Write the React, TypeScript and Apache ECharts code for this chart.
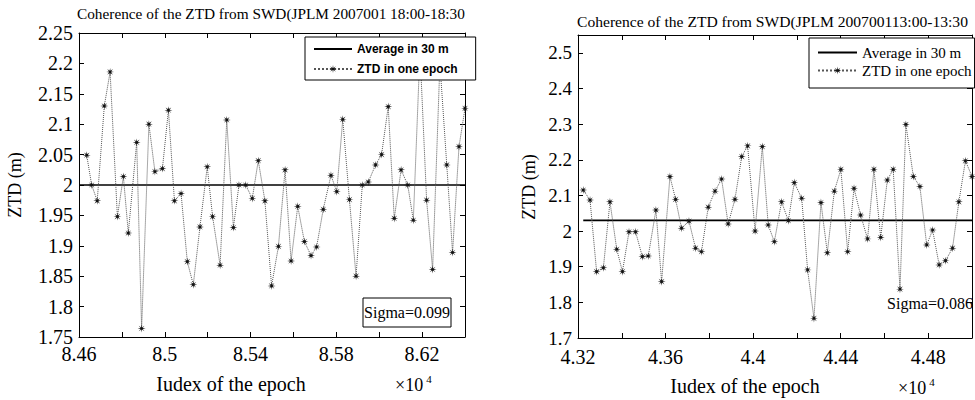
import React, { useEffect, useRef } from "react";
import * as echarts from "echarts";

// ---- Data (x in units of 10^4 epochs, ZTD in m) ----
const LEFT_X = [
  8.4636, 8.4659, 8.4685, 8.4718, 8.4745, 8.4779, 8.4807, 8.483, 8.4869, 8.4892,
  8.4926, 8.4954, 8.4989, 8.5017, 8.5045, 8.5076, 8.5105, 8.5133, 8.5164, 8.5198,
  8.5223, 8.5258, 8.5289, 8.532, 8.5346, 8.5377, 8.5408, 8.5436, 8.5467, 8.5498,
  8.553, 8.5561, 8.5589, 8.562, 8.5651, 8.5682, 8.5708, 8.5739, 8.5775, 8.5802,
  8.583, 8.5861, 8.5892, 8.5921, 8.5949, 8.5983, 8.6011, 8.6042, 8.607, 8.6102,
  8.6133, 8.6159, 8.619, 8.6221, 8.6249, 8.6283, 8.6315, 8.6342, 8.6372, 8.64,
];
const LEFT_Y = [
  2.049, 2.0, 1.974, 2.13, 2.186, 1.948, 2.014, 1.921, 2.07, 1.764,
  2.1, 2.022, 2.027, 2.123, 1.974, 1.986, 1.874, 1.836, 1.931, 2.03,
  1.948, 1.868, 2.107, 1.93, 2.0, 2.0, 1.978, 2.04, 1.974, 1.834,
  1.899, 2.025, 1.875, 1.965, 1.907, 1.884, 1.898, 1.96, 2.016, 1.989,
  2.108, 1.976, 1.85, 2.0, 2.005, 2.033, 2.05, 2.129, 1.945, 2.025,
  2.0, 1.942, 2.22, 1.975, 1.861, 2.2, 2.033, 1.889, 2.063, 2.126,
];
const LEFT_MEAN = 2.0;
const LEFT_MEAN_X = [8.46, 8.64];

const RIGHT_X = [
  4.3224, 4.3255, 4.3285, 4.3316, 4.3346, 4.3377, 4.3403, 4.3433, 4.3463, 4.3494,
  4.3521, 4.3556, 4.3582, 4.362, 4.3646, 4.3673, 4.3707, 4.3737, 4.3764, 4.3795,
  4.3826, 4.3856, 4.3886, 4.3917, 4.3948, 4.3975, 4.4009, 4.4042, 4.4069, 4.4097,
  4.413, 4.4161, 4.4188, 4.4222, 4.4249, 4.4278, 4.431, 4.4339, 4.4371, 4.4401,
  4.4432, 4.4461, 4.4491, 4.4523, 4.4552, 4.4583, 4.4613, 4.464, 4.4671, 4.4698,
  4.4732, 4.4762, 4.4793, 4.482, 4.485, 4.4879, 4.4911, 4.494, 4.497, 4.5,
];
const RIGHT_Y = [
  2.115, 2.087, 1.886, 1.897, 2.082, 1.949, 1.886, 1.998, 1.998, 1.928,
  1.93, 2.059, 1.858, 2.153, 2.089, 2.008, 2.028, 1.952, 1.942, 2.067,
  2.112, 2.146, 2.02, 2.089, 2.209, 2.239, 2.0, 2.237, 2.017, 1.97,
  2.082, 2.029, 2.136, 2.092, 1.891, 1.755, 2.08, 1.939, 2.112, 2.173,
  1.942, 2.12, 2.045, 1.978, 2.173, 1.982, 2.143, 2.173, 1.837, 2.299,
  2.153, 2.125, 1.961, 2.003, 1.905, 1.917, 1.952, 2.082, 2.197, 2.153,
];
const RIGHT_MEAN = 2.03;
const RIGHT_MEAN_X = [4.3224, 4.5];

const LEFT_X_LABELS = [8.46, 8.5, 8.54, 8.58, 8.62];
const LEFT_Y_LABELS = [1.75, 1.8, 1.85, 1.9, 1.95, 2, 2.05, 2.1, 2.15, 2.2, 2.25];
const RIGHT_X_LABELS = [4.32, 4.36, 4.4, 4.44, 4.48];
const RIGHT_Y_LABELS = [1.7, 1.8, 1.9, 2, 2.1, 2.2, 2.3, 2.4, 2.5];

const NAME_AVG = "Average in 30 m";
const NAME_ZTD = "ZTD in one epoch";
const TITLE_LEFT = "Coherence of the ZTD from SWD(JPLM 2007001 18:00-18:30";
const TITLE_RIGHT = "Coherence of the ZTD from SWD(JPLM 200700113:00-13:30";
const SIGMA_LEFT = "Sigma=0.099";
const SIGMA_RIGHT = "Sigma=0.086";

const SERIF = "'Liberation Serif', 'DejaVu Serif', serif";
const SANS = "'Liberation Sans', Arial, sans-serif";

const STAR =
  "path://M20 10 L12.77 11.15 L17.07 17.07 L11.15 12.77 L10 20 L8.85 12.77 L2.93 17.07 L7.23 11.15 L0 10 L7.23 8.85 L2.93 2.93 L8.85 7.23 L10 0 L11.15 7.23 L17.07 2.93 L12.77 8.85 Z";

const labelFmt = (labels: number[]) => (v: number) => {
  const f = labels.find((t) => Math.abs(t - v) < 1e-6);
  return f === undefined ? "" : String(f);
};

function makeX(grid: number, min: number, max: number, labels: number[], top = false, margin = 7) {
  return {
    type: "value",
    gridIndex: grid,
    position: top ? "top" : "bottom",
    min,
    max,
    interval: 0.02,
    splitLine: { show: false },
    axisLine: { show: true, onZero: false, lineStyle: { color: "#000", width: 1 } },
    axisTick: { show: true, inside: true, length: 5, lineStyle: { color: "#000" } },
    axisLabel: top
      ? { show: false }
      : {
          show: true,
          formatter: labelFmt(labels),
          color: "#000",
          fontFamily: SERIF,
          fontSize: 20,
          margin,
          showMaxLabel: true,
          showMinLabel: true,
        },
  };
}

function makeY(grid: number, min: number, max: number, interval: number, labels: number[], right = false, fs = 20) {
  return {
    type: "value",
    gridIndex: grid,
    position: right ? "right" : "left",
    min,
    max,
    interval,
    splitLine: { show: false },
    axisLine: { show: true, onZero: false, lineStyle: { color: "#000", width: 1 } },
    axisTick: { show: true, inside: true, length: 5, lineStyle: { color: "#000" } },
    axisLabel: right
      ? { show: false }
      : {
          show: true,
          formatter: labelFmt(labels),
          color: "#000",
          fontFamily: SERIF,
          fontSize: fs,
          margin: 6,
          showMaxLabel: true,
          showMinLabel: true,
        },
  };
}

function ztdSeries(name: string, xi: number, yi: number, xs: number[], ys: number[]) {
  return {
    name,
    type: "line",
    xAxisIndex: xi,
    yAxisIndex: yi,
    data: xs.map((x, i) => [x, ys[i]]),
    symbol: STAR,
    symbolSize: 8,
    showAllSymbol: true,
    itemStyle: { color: "#111" },
    lineStyle: { color: "#555", width: 1, type: "dotted" },
    z: 3,
  };
}

function meanSeries(name: string, xi: number, yi: number, xs: number[], m: number) {
  return {
    name,
    type: "line",
    xAxisIndex: xi,
    yAxisIndex: yi,
    data: xs.map((x) => [x, m]),
    symbol: "none",
    showSymbol: false,
    itemStyle: { color: "#000" },
    lineStyle: { color: "#000", width: 1.6, type: "solid" },
    z: 2,
  };
}

const legendData = () => [
  { name: NAME_AVG, itemStyle: { opacity: 0 } },
  { name: NAME_ZTD },
];

export default function App() {
  const ref = useRef<HTMLDivElement>(null);
  useEffect(() => {
    if (!ref.current) return;
    const chart = echarts.init(ref.current, null, { renderer: "svg" });
    const option: any = {
      animation: false,
      backgroundColor: "#fff",
      title: [
        {
          text: TITLE_LEFT,
          left: 77,
          top: 6,
          padding: 0,
          textStyle: { fontFamily: SERIF, fontWeight: "normal", fontSize: 15.3, color: "#000" },
        },
        {
          text: TITLE_RIGHT,
          left: 577,
          top: 13,
          padding: 0,
          textStyle: { fontFamily: SERIF, fontWeight: "normal", fontSize: 15.6, color: "#000" },
        },
      ],
      legend: [
        {
          data: legendData(),
          orient: "vertical",
          left: 305,
          top: 37,
          padding: [6, 18, 5, 8],
          itemGap: 8,
          itemWidth: 38,
          itemHeight: 10,
          backgroundColor: "#fff",
          borderColor: "#000",
          borderWidth: 1,
          borderRadius: 0,
          selectedMode: false,
          textStyle: { fontFamily: SANS, fontSize: 12, color: "#000", fontWeight: "bold" },
        },
        {
          data: legendData(),
          orient: "vertical",
          left: 809,
          top: 38,
          padding: [7, 3, 10, 8],
          itemGap: 3,
          itemWidth: 39,
          itemHeight: 10,
          backgroundColor: "#fff",
          borderColor: "#000",
          borderWidth: 1,
          borderRadius: 0,
          selectedMode: false,
          textStyle: { fontFamily: SERIF, fontSize: 15, color: "#000" },
        },
      ],
      grid: [
        { left: 79, top: 33, width: 386, height: 304, containLabel: false },
        { left: 578, top: 35, width: 394, height: 303, containLabel: false },
      ],
      xAxis: [
        makeX(0, 8.46, 8.64, LEFT_X_LABELS),
        makeX(1, 4.32, 4.5, RIGHT_X_LABELS, false, 9),
        makeX(0, 8.46, 8.64, LEFT_X_LABELS, true),
        makeX(1, 4.32, 4.5, RIGHT_X_LABELS, true),
      ],
      yAxis: [
        makeY(0, 1.75, 2.25, 0.05, LEFT_Y_LABELS, false, 20),
        makeY(1, 1.7, 2.55, 0.1, RIGHT_Y_LABELS, false, 19),
        makeY(0, 1.75, 2.25, 0.05, LEFT_Y_LABELS, true),
        makeY(1, 1.7, 2.55, 0.1, RIGHT_Y_LABELS, true),
      ],
      series: [
        meanSeries(NAME_AVG, 0, 0, LEFT_MEAN_X, LEFT_MEAN),
        ztdSeries(NAME_ZTD, 0, 0, LEFT_X, LEFT_Y),
        meanSeries(NAME_AVG, 1, 1, RIGHT_MEAN_X, RIGHT_MEAN),
        ztdSeries(NAME_ZTD, 1, 1, RIGHT_X, RIGHT_Y),
      ],
      graphic: [
        {
          type: "text",
          x: 15,
          y: 185,
          rotation: Math.PI / 2,
          style: { text: "ZTD (m)", fontFamily: SERIF, fontSize: 18, fill: "#000", align: "center", verticalAlign: "middle" },
        },
        {
          type: "text",
          x: 529,
          y: 187,
          rotation: Math.PI / 2,
          style: { text: "ZTD (m)", fontFamily: SERIF, fontSize: 18, fill: "#000", align: "center", verticalAlign: "middle" },
        },
        {
          type: "text",
          x: 231,
          y: 384,
          style: { text: "Iudex of the epoch", fontFamily: SERIF, fontSize: 20, fill: "#000", align: "center", verticalAlign: "middle" },
        },
        {
          type: "text",
          x: 745,
          y: 386,
          style: { text: "Iudex of the epoch", fontFamily: SERIF, fontSize: 20, fill: "#000", align: "center", verticalAlign: "middle" },
        },
        {
          type: "text",
          x: 395,
          y: 385,
          style: {
            text: "×10{s|4}",
            fontFamily: SERIF,
            fontSize: 18,
            fill: "#000",
            verticalAlign: "middle",
            rich: { s: { fontSize: 11, fontFamily: SERIF, padding: [0, 0, 12, 3] } },
          },
        },
        {
          type: "text",
          x: 898,
          y: 388,
          style: {
            text: "×10{s|4}",
            fontFamily: SERIF,
            fontSize: 18,
            fill: "#000",
            verticalAlign: "middle",
            rich: { s: { fontSize: 11, fontFamily: SERIF, padding: [0, 0, 12, 3] } },
          },
        },
        {
          type: "rect",
          shape: { x: 363, y: 298, width: 88, height: 29 },
          style: { fill: "#fff", stroke: "#000", lineWidth: 1 },
          z: 10,
        },
        {
          type: "text",
          x: 407,
          y: 312.5,
          z: 11,
          style: { text: SIGMA_LEFT, fontFamily: SERIF, fontSize: 16, fill: "#000", align: "center", verticalAlign: "middle" },
        },
        {
          type: "text",
          x: 930,
          y: 303,
          z: 11,
          style: { text: SIGMA_RIGHT, fontFamily: SERIF, fontSize: 16, fill: "#000", align: "center", verticalAlign: "middle" },
        },
      ],
    };
    chart.setOption(option);
    return () => chart.dispose();
  }, []);
  return (
    <div
      ref={ref}
      style={{ position: "absolute", left: 0, top: 0, width: 975, height: 400, background: "#fff" }}
    />
  );
}
